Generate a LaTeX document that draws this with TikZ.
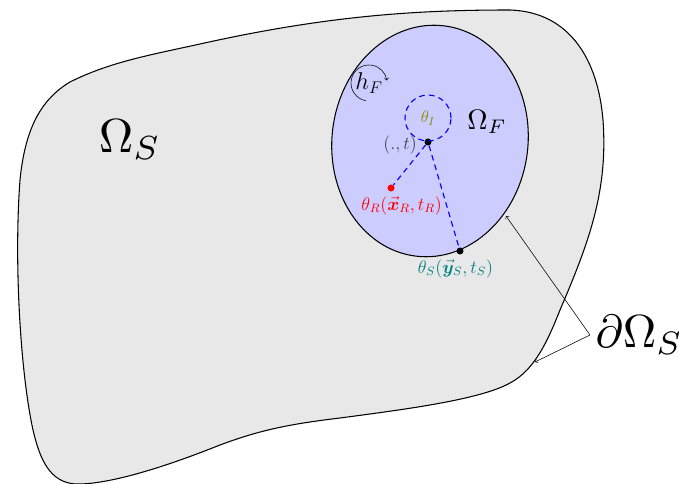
\documentclass[tikz,border=0pt]{standalone}
\usepackage{amsmath,amssymb,amsfonts}
\usepackage{bm}
\usepackage{tikz}
\usetikzlibrary{arrows, arrows.meta, positioning, calc, shapes.geometric}
\tikzset{
    region/.style={draw=black, line width=0.75pt},
    probe/.style={circle, fill=black, inner sep=0pt, minimum size=5pt},
    link/.style={blue, dashed, thick, dash pattern=on 4pt off 3pt},
    tag/.style={font=\large, scale=1.08, inner sep=1pt},
    pointer/.style={thin, ->, >=to}
}

\begin{document}
\begin{tikzpicture}[x=0.025cm, y=-0.025cm]
        \useasboundingbox (0,0) rectangle (679,484);

        % Solid domain
        \draw[region, fill=gray!18] (200,44) .. controls (330,15) and (420,10) .. (510,10)
            .. controls (570,12) and (598,60) .. (603,120)
            .. controls (608,190) and (590,240) .. (560,310)
            .. controls (548,340) and (535,370) .. (510,383)
            .. controls (480,400) and (400,410) .. (340,418)
            .. controls (290,424) and (260,430) .. (220,445)
            .. controls (170,465) and (110,485) .. (75,484)
            .. controls (50,482) and (40,460) .. (33,430)
            .. controls (20,370) and (14,260) .. (20,180)
            .. controls (25,130) and (40,100) .. (70,82)
            .. controls (110,62) and (150,55) .. (200,44) -- cycle;

        % Fluid domain
        \draw[region, fill=blue!20] (430,141) ellipse [x radius=98, y radius=116, rotate=-7];

        % Arrow ends on the boundaries
        \coordinate (fluidEdge) at (506,216);
        \coordinate (solidEdge) at (535,362);

        % Region labels
        \node[scale=3.4] (solid) at (130,140) {$\Omega_S$};
        \node[scale=2] (fluid) at (487,122) {$\Omega_F$};
        \node[scale=3.3, anchor=west, inner sep=1pt] (bound) at (590,335) {$\partial\Omega_S$};
        \node[font=\LARGE] (hF) at (369,83) {$h_F$};
        \draw[pointer] ($(hF)+(100:18)$) arc[start angle=100, end angle=352, radius=18];

        % Points
        \node[probe] (obs) at (428,142) {};
        \node[probe, fill=red] (rec) at (391,188) {};
        \node[probe] (src) at (460,251) {};
        \node[draw=blue, thick, dash pattern=on 4pt off 3pt, circle, minimum size=1.15cm, inner sep=0pt,
              text=olive, font=\large] (inner) at (428,118) {$\theta_I$};

        % Point labels
        \node[tag, text=black!75, left=4pt of obs, yshift=-2pt] (obslbl) {$(.,t)$};
        \node[tag, text=red, below=2pt of rec, xshift=7pt] (reclbl) {$\theta_R(\vec{\bm x}_R,t_R)$};
        \node[tag, text=teal, below=2pt of src, xshift=-3pt] (srclbl) {$\theta_S(\vec{\bm y}_S,t_S)$};

        % Connectors
        \draw[link] (obs) -- (rec);
        \draw[link] (obs) -- (src);
        \draw[pointer] (bound.west) -- (fluidEdge);
        \draw[pointer] (bound.west) -- (solidEdge);
    \end{tikzpicture}
\end{document}
